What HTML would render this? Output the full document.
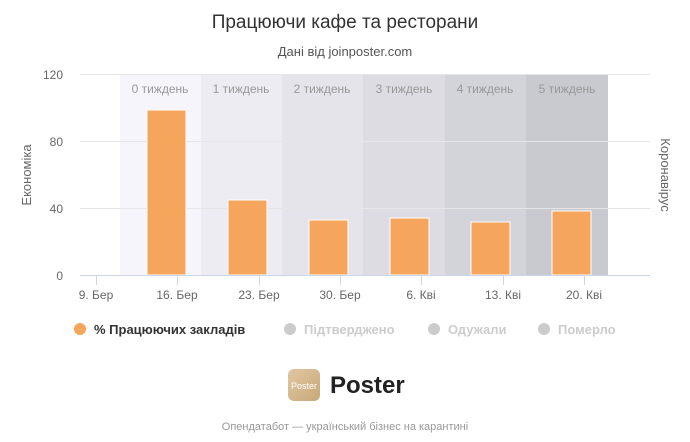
<!DOCTYPE html><html><head><meta charset="utf-8"><style>
body{margin:0;background:#fff;width:690px;height:437px;overflow:hidden;font-family:"Liberation Sans","DejaVu Sans",sans-serif}
</style></head><body>
<svg width="690" height="437" xmlns="http://www.w3.org/2000/svg" font-family="Liberation Sans, DejaVu Sans, sans-serif">
<text x="345" y="28" text-anchor="middle" font-size="19" fill="#333">Працюючи кафе та ресторани</text>
<text x="345" y="56" text-anchor="middle" font-size="13" fill="#555">Дані від joinposter.com</text>
<rect x="120" y="74" width="81" height="201" fill="#f6f5fb"/>
<rect x="201" y="74" width="81" height="201" fill="#ececf2"/>
<rect x="282" y="74" width="81" height="201" fill="#e4e4ea"/>
<rect x="363" y="74" width="82" height="201" fill="#dcdce2"/>
<rect x="445" y="74" width="81" height="201" fill="#d3d3da"/>
<rect x="526" y="74" width="82" height="201" fill="#c9c9d0"/>
<g stroke="#e6e6e6" stroke-width="1">
<line x1="80" y1="74.5" x2="650" y2="74.5"/><line x1="80" y1="141.5" x2="650" y2="141.5"/><line x1="80" y1="208.5" x2="650" y2="208.5"/>
</g>
<g font-size="12" fill="#999" text-anchor="middle">
<text x="160" y="93">0 тиждень</text><text x="241" y="93">1 тиждень</text><text x="322" y="93">2 тиждень</text>
<text x="404" y="93">3 тиждень</text><text x="485" y="93">4 тиждень</text><text x="567" y="93">5 тиждень</text>
</g>
<g fill="#f5a55c" stroke="#fff" stroke-width="1">
<rect x="147" y="110" width="39" height="165"/>
<rect x="228" y="200" width="39" height="75"/>
<rect x="309" y="220" width="39" height="55"/>
<rect x="390" y="218" width="39" height="57"/>
<rect x="471" y="222" width="39" height="53"/>
<rect x="552" y="211" width="39" height="64"/>
</g>
<line x1="80" y1="275.5" x2="650" y2="275.5" stroke="#ccd6eb"/>
<g stroke="#ccd6eb"><line x1="96.5" y1="275" x2="96.5" y2="285"/><line x1="177.5" y1="275" x2="177.5" y2="285"/><line x1="259.5" y1="275" x2="259.5" y2="285"/><line x1="340.5" y1="275" x2="340.5" y2="285"/><line x1="421.5" y1="275" x2="421.5" y2="285"/><line x1="503.5" y1="275" x2="503.5" y2="285"/><line x1="584.5" y1="275" x2="584.5" y2="285"/></g>
<g font-size="12" fill="#666" text-anchor="middle">
<text x="96" y="299">9. Бер</text><text x="177" y="299">16. Бер</text><text x="259" y="299">23. Бер</text><text x="340" y="299">30. Бер</text><text x="421" y="299">6. Кві</text><text x="503" y="299">13. Кві</text><text x="584" y="299">20. Кві</text>
</g>
<g font-size="12" fill="#666" text-anchor="end">
<text x="63" y="79">120</text><text x="63" y="146">80</text><text x="63" y="213">40</text><text x="63" y="280">0</text>
</g>
<text transform="translate(31,175) rotate(-90)" text-anchor="middle" font-size="13" fill="#666">Економіка</text>
<text transform="translate(661,175) rotate(90)" text-anchor="middle" font-size="13" fill="#666">Коронавірус</text>
<g font-size="13" font-weight="bold">
<circle cx="80" cy="329" r="6" fill="#f5a55c"/><text x="94" y="334" fill="#333">% Працюючих закладів</text>
<circle cx="290" cy="329" r="6" fill="#ccc"/><text x="304" y="334" fill="#ccc">Підтверджено</text>
<circle cx="434" cy="329" r="6" fill="#ccc"/><text x="448" y="334" fill="#ccc">Одужали</text>
<circle cx="544" cy="329" r="6" fill="#ccc"/><text x="558" y="334" fill="#ccc">Померло</text>
</g>
<defs><linearGradient id="g" x1="0" y1="0" x2="1" y2="1"><stop offset="0" stop-color="#e0c7a2"/><stop offset="1" stop-color="#c9a878"/></linearGradient></defs>
<rect x="288" y="369" width="32" height="32" rx="6" fill="url(#g)"/>
<text x="304" y="389" text-anchor="middle" font-size="9" fill="#fff">Poster</text>
<text x="330" y="393" font-size="24" font-weight="bold" fill="#222">Poster</text>
<text x="345" y="430" text-anchor="middle" font-size="11" fill="#999">Опендатабот — український бізнес на карантині</text>
</svg>
</body></html>
